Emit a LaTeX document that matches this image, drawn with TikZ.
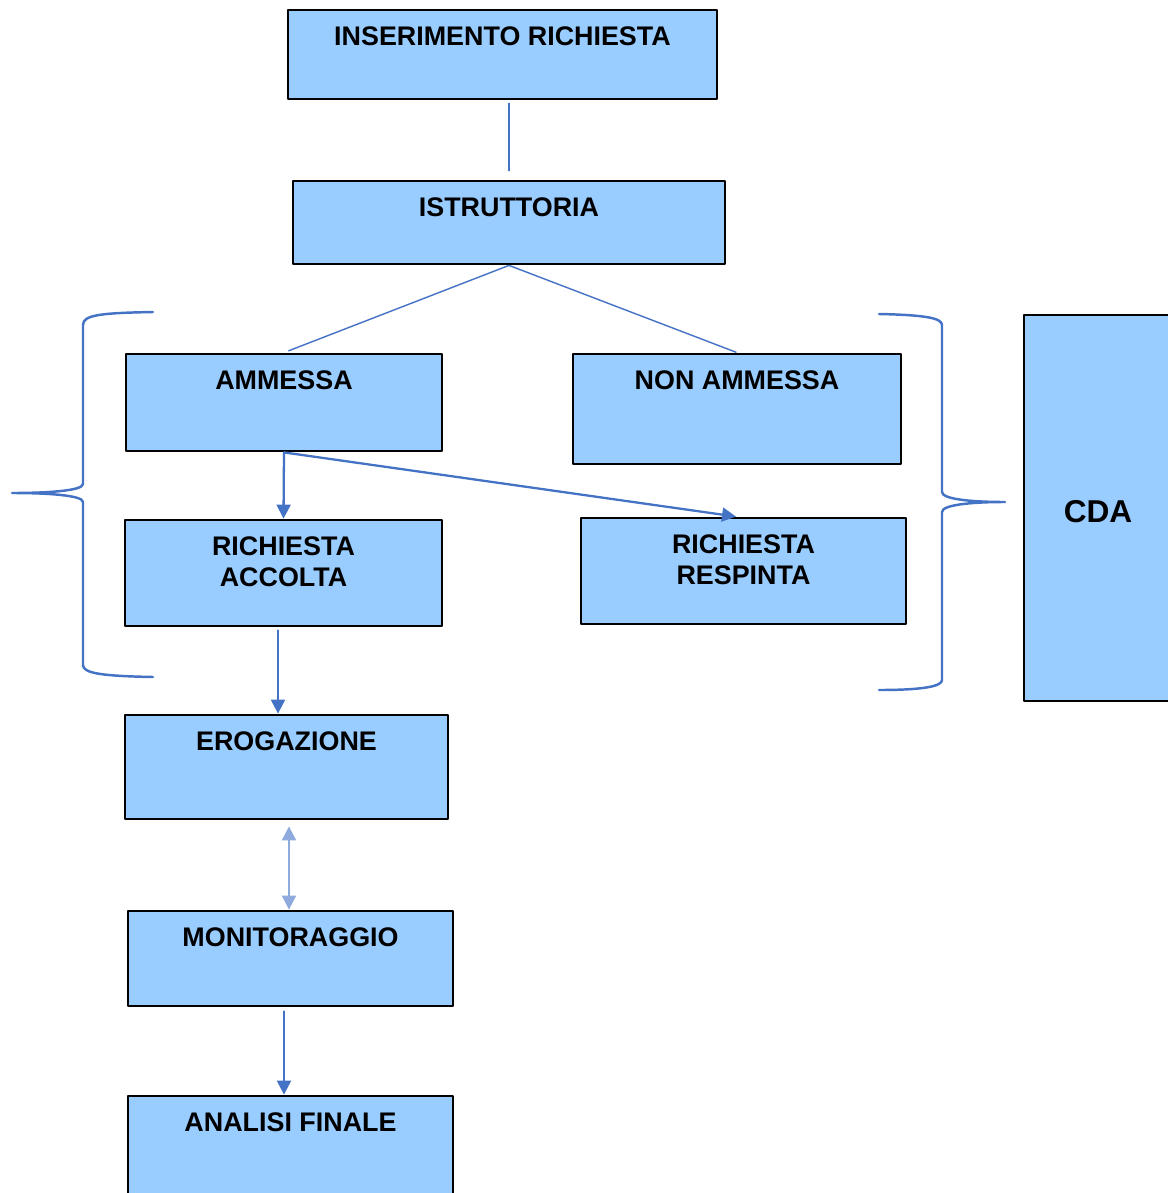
\documentclass[tikz,border=0pt]{standalone}
\usepackage{fontspec}
\setmainfont{Liberation Sans}
\usetikzlibrary{arrows.meta}
\usetikzlibrary{fit}
\definecolor{boxblue}{RGB}{153,204,255}
\definecolor{lineblue}{RGB}{68,114,196}
\definecolor{paleblue}{RGB}{143,170,220}
\newcommand{\boxfont}{\bfseries\fontsize{15.3}{17.5}\selectfont}
\tikzset{
flowbox/.style={draw=black,fill=boxblue,line width=1.6pt,inner sep=0pt},
boxtxt/.style={anchor=north,yshift=-0.36cm,inner sep=0pt,align=center,
font=\boxfont},
thinlink/.style={draw=lineblue,line width=0.8pt},
arrowlink/.style={draw=lineblue,line width=1.3pt,
-{Triangle[width=0.28cm,length=0.28cm]}},
pairlink/.style={draw=paleblue,line width=1.3pt,
{Triangle[width=0.28cm,length=0.28cm]}-{Triangle[width=0.28cm,length=0.28cm]}},
brace/.style={draw=lineblue,line width=1.4pt}
}
\begin{document}
\begin{tikzpicture}[line cap=round,line join=round,x=0.02cm,y=-0.02cm]
\useasboundingbox (0,0) rectangle (1167,1193);
% I riquadri del flusso
\node[flowbox,fit={(288,10) (717,99)},
label={[boxtxt]north:INSERIMENTO RICHIESTA}] (ins) {};
\node[flowbox,fit={(293,181) (725,264)},
label={[boxtxt]north:ISTRUTTORIA}] (ist) {};
\node[flowbox,fit={(126,354) (442,451)},
label={[boxtxt]north:AMMESSA}] (amm) {};
\node[flowbox,fit={(573,354) (901,464)},
label={[boxtxt]north:NON AMMESSA}] (non) {};
\node[flowbox,fit={(125,520) (442,626)},
label={[boxtxt]north:RICHIESTA\\ACCOLTA}] (acc) {};
\node[flowbox,fit={(581,518) (906,624)},
label={[boxtxt]north:RICHIESTA\\RESPINTA}] (res) {};
\node[flowbox,fit={(125,715) (448,819)},
label={[boxtxt]north:EROGAZIONE}] (ero) {};
\node[flowbox,fit={(128,911) (453,1006)},
label={[boxtxt]north:MONITORAGGIO}] (mon) {};
\node[flowbox,fit={(128,1096) (453,1210)},
label={[boxtxt]north:ANALISI FINALE}] (ana) {};
% il riquadro CDA a destra
\node[flowbox,fit={(1024,315) (1172,701)},
label={[anchor=center,yshift=-0.07cm,font=\bfseries\fontsize{18}{21}\selectfont]center:CDA}] (cda) {};
% Collegamenti
\draw[thinlink,shorten <=0.06cm,shorten >=0.18cm] (ins.south -| ist.north) -- (ist.north);
\draw[thinlink,shorten >=0.1cm] (ist.south) -- (amm.north);
\draw[thinlink,shorten >=0.02cm] (ist.south) -- (non.north);
\draw[arrowlink] (amm.south) -- (acc.north);
\draw[arrowlink] (amm.south) -- ([xshift=-0.15cm]res.north);
\draw[arrowlink,shorten <=0.06cm] ([xshift=-0.11cm]acc.south) -- ([xshift=-0.11cm]acc.south |- ero.north);
\draw[pairlink,shorten <=0.12cm] ([xshift=-0.03cm]ero.south -| mon.north) -- ([xshift=-0.03cm]mon.north);
\draw[arrowlink,shorten <=0.08cm] ([xshift=-0.13cm]mon.south) -- ([xshift=-0.13cm]ana.north);
% Le due parentesi graffe
\draw[brace] (153,312) .. controls (100,313) and (83,315) .. (83,325)
-- (83,484) .. controls (83,491) and (45,493) .. (12,493)
.. controls (45,493) and (83,495) .. (83,502)
-- (83,665) .. controls (83,673) and (100,676) .. (153,677);
\draw[brace] (879,314) .. controls (925,315) and (942,318) .. (942,325)
-- (942,492) .. controls (942,499) and (970,502) .. (1005,502)
.. controls (970,502) and (942,505) .. (942,512)
-- (942,680) .. controls (942,686) and (925,690) .. (879,690);
\end{tikzpicture}
\end{document}
